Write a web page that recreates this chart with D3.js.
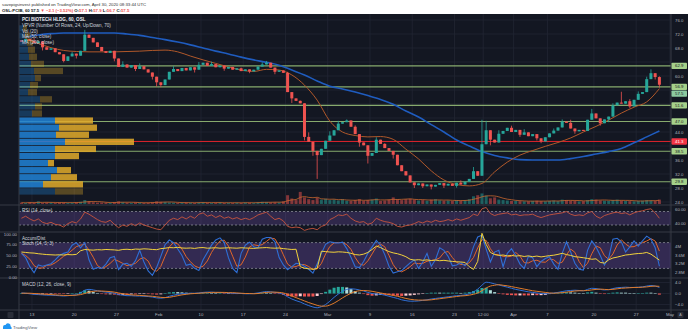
<!DOCTYPE html>
<html>
<head>
<meta charset="utf-8">
<script src="https://cdnjs.cloudflare.com/ajax/libs/d3/7.8.5/d3.min.js"></script>
<style>
html,body{margin:0;padding:0;background:#ffffff;}
svg{display:block;font-family:"Liberation Sans",Arial,sans-serif;}
</style>
</head>
<body>
<svg id="chart" width="690" height="332"></svg>
<script>
// ---------- data (60-minute chart, sampled every half trading day) ----------
const firstOpen = 70.2;
const closes = [
  69.8,70.6,70.0,69.4,69.9,68.2,67.5,67.9,66.8,66.2,
  64.3,65.6,66.4,65.8,67.2,71.8,70.9,69.6,68.3,67.1,
  66.6,67.2,65.0,62.6,63.3,62.4,63.1,62.0,62.8,61.9,
  61.0,59.8,58.2,57.4,59.0,61.2,62.0,61.4,62.3,61.6,
  62.5,61.8,63.2,63.8,62.9,63.4,62.5,63.0,62.1,62.6,
  61.8,62.2,61.4,61.9,61.3,61.8,62.7,63.3,63.8,62.4,
  61.2,61.6,60.9,55.4,53.6,52.9,52.2,42.6,41.2,38.6,
  37.4,39.2,41.5,43.0,44.5,46.4,46.8,47.3,45.5,43.4,
  41.0,40.2,37.2,38.0,41.8,40.6,39.4,38.6,37.5,34.5,
  32.8,31.6,29.6,28.8,29.3,28.5,29.0,28.4,28.9,29.4,
  28.7,29.2,28.6,29.5,29.0,29.8,30.6,32.8,31.5,40.5,
  44.5,41.8,41.0,43.5,44.3,45.2,44.0,44.6,43.2,43.9,
  42.8,43.4,42.2,41.3,42.5,43.6,44.4,45.3,47.0,46.6,
  45.0,44.2,44.6,44.3,47.5,49.3,47.9,46.5,47.6,48.4,
  51.6,52.4,52.1,52.8,51.3,53.2,54.9,55.4,59.1,60.8,
  59.7,57.5
];
// wick extremes that reach beyond the candle body (bar index -> price)
const wickHighs = {3:70.9,8:67.8,12:66.9,15:73.2,19:68.2,24:64.2,28:63.6,36:62.8,42:64.0,45:64.1,52:62.4,
  57:63.9,58:64.3,63:61.2,66:53.0,68:43.9,73:44.2,75:47.2,77:47.6,79:45.9,84:42.5,86:40.8,90:34.0,104:30.2,
  107:34.0,109:47.5,110:47.2,113:44.5,116:45.8,119:44.8,126:45.0,128:47.6,130:47.5,135:50.6,140:52.2,
  142:55.5,144:53.4,146:55.6,148:59.8,149:61.9,151:59.9};
const wickLows = {5:67.3,10:63.9,13:65.0,22:64.2,27:61.4,31:59.0,32:57.0,33:56.8,41:61.0,48:61.5,54:60.8,
  60:60.5,64:52.3,67:41.6,69:37.2,70:30.6,80:39.8,82:35.0,88:36.4,93:28.0,95:28.0,97:27.6,100:28.0,103:28.1,
  111:40.2,118:42.6,122:41.6,123:40.8,131:43.5,137:45.8,139:46.8,144:50.8,150:59.0,151:56.7};
const volumes = [
  6,5,8,6,12,5,7,6,5,8,
  7,5,6,8,10,18,12,8,6,7,
  6,5,9,12,8,6,5,7,6,5,
  6,8,12,10,9,7,6,5,6,7,
  6,5,7,8,6,5,6,7,5,6,
  5,6,5,7,6,5,8,10,9,7,
  8,7,12,40,25,18,55,30,22,18,
  28,20,24,18,20,16,22,15,14,18,
  22,15,18,20,25,14,16,20,30,22,
  18,22,24,20,16,18,15,20,22,17,
  15,16,14,18,15,17,22,35,40,48,
  38,26,30,20,18,16,14,15,13,12,
  12,14,15,13,12,14,16,13,20,18,
  15,14,12,13,18,22,20,16,15,14,
  18,20,16,14,13,12,14,15,18,16,
  14,20
];
// moving averages, one value every third bar starting at bar 1
const ma50 = [
  70.6,69.3,68.1,67.3,67.0,66.9,66.9,66.9,67.0,67.1,
  67.3,67.4,66.9,65.7,64.6,63.6,62.6,61.7,61.3,61.9,
  61.7,60.3,57.4,53.1,47.1,44.0,43.0,42.6,42.7,41.9,
  39.1,36.3,32.9,30.3,29.0,28.6,29.3,32.6,35.4,37.4,
  38.7,39.9,41.0,42.3,44.0,45.6,47.4,49.4,51.1,52.6,
  56.4
];
const ma200 = [
  71.1,71.7,72.1,72.3,72.3,72.3,72.3,72.3,72.0,71.6,
  71.0,70.4,69.7,68.9,68.0,67.1,66.3,65.4,64.6,63.9,
  63.1,61.7,60.3,58.6,57.1,56.3,55.4,54.4,53.3,51.9,
  50.0,48.3,46.1,44.0,41.7,40.0,38.4,37.3,36.6,36.1,
  36.0,36.0,36.0,36.4,37.0,37.7,38.4,39.3,40.9,42.6,
  44.3
];
const rsi = [
  50,53,49,46,49,44,42,44,41,40,
  37,42,45,43,49,59,56,52,48,45,
  44,47,41,36,40,38,42,39,43,40,
  38,36,34,33,40,47,50,48,52,49,
  53,50,56,58,53,55,51,54,50,52,
  49,51,48,50,48,51,55,57,59,53,
  48,50,46,38,36,37,36,32,34,35,
  33,38,40,48,51,55,54,56,50,46,
  44,45,41,43,50,47,45,44,42,38,
  37,39,40,42,45,43,46,44,47,45,
  46,48,46,49,47,49,51,56,54,64,
  66,57,54,56,57,58,55,56,54,55,
  55,56,53,51,53,55,56,57,58,60,
  56,54,55,54,58,60,53,50,54,56,
  58,59,57,58,55,58,60,61,63,64,
  58,50
];
const stochK = [
  55,45,24,10,28,25,28,31,40,50,
  55,58,74,80,68,80,40,18,22,20,
  30,45,48,17,30,32,25,38,62,35,
  14,4,22,48,75,86,80,65,50,27,
  30,20,15,40,57,74,86,91,80,45,
  20,10,55,74,81,70,68,88,92,92,
  82,45,28,17,24,32,30,25,18,9,
  30,55,76,82,80,79,81,66,46,24,
  22,36,55,70,85,74,52,25,9,12,
  15,24,33,40,20,35,55,25,40,68,
  62,48,26,28,33,26,40,70,93,97,
  65,35,58,62,24,55,66,50,30,20,
  48,45,24,36,43,47,30,18,55,82,
  58,32,18,16,62,84,70,50,28,45,
  88,90,82,58,70,84,72,84,95,88,
  68,25
];
const accDist = [
  3.74,3.72,3.70,3.69,3.66,3.64,3.62,3.61,3.60,3.61,
  3.60,3.62,3.61,3.63,3.80,3.86,3.84,3.83,3.85,3.84,
  3.86,3.85,3.84,3.82,3.86,3.87,3.85,3.88,3.87,3.89,
  3.88,3.86,3.85,3.90,3.92,3.95,3.94,3.96,3.93,3.92,
  3.93,3.91,3.94,3.95,3.92,3.93,3.94,3.92,3.93,3.94,
  3.93,3.92,3.94,3.93,3.92,3.91,3.93,3.94,3.95,3.93,
  3.92,3.93,3.90,3.88,3.86,3.87,3.05,2.98,2.95,2.93,
  2.97,3.78,3.76,3.74,3.73,3.75,3.74,3.72,3.68,3.62,
  3.60,3.64,3.72,3.86,4.02,3.95,3.85,3.76,3.70,3.66,
  3.60,3.52,3.40,3.36,3.38,3.35,3.37,3.34,3.36,3.33,
  3.35,3.32,3.30,3.28,3.27,3.25,3.05,2.92,3.30,4.62,
  4.10,3.72,3.62,3.58,3.60,3.56,3.58,3.55,3.57,3.53,
  3.56,3.52,3.55,3.51,3.54,3.57,3.59,3.63,3.68,3.62,
  3.58,3.52,3.50,3.47,3.44,3.40,3.42,3.25,3.22,3.37,
  3.46,3.50,3.55,3.60,3.62,3.65,3.67,3.68,3.72,3.64,
  3.50,3.36
];
const macdLine = [
  0.2,0.1,-0.1,-0.3,-0.4,-0.5,-0.6,-0.6,-0.7,-0.8,
  -0.9,-0.8,-0.6,-0.5,0.2,1.2,1.5,1.3,1.0,0.7,
  0.5,0.4,0.1,-0.4,-0.6,-0.8,-0.8,-0.9,-0.9,-1.0,
  -1.1,-1.3,-1.6,-1.7,-1.5,-1.0,-0.6,-0.3,-0.1,0.0,
  0.1,0.1,0.2,0.4,0.5,0.5,0.4,0.4,0.3,0.2,
  0.1,0.0,0.0,-0.1,-0.1,0.0,0.2,0.5,0.7,0.6,
  0.4,0.2,-0.3,-1.2,-2.0,-2.6,-3.1,-3.8,-4.4,-4.9,
  -5.2,-4.8,-4.0,-2.8,-1.4,-0.2,0.8,1.5,1.7,1.6,
  1.3,0.9,0.4,0.0,-0.2,-0.3,-0.6,-1.0,-1.4,-1.8,
  -2.3,-2.6,-2.8,-2.8,-2.7,-2.5,-2.3,-2.0,-1.8,-1.6,
  -1.4,-1.2,-1.0,-0.8,-0.7,-0.5,-0.1,0.6,1.6,3.0,
  4.1,3.9,3.5,3.1,2.7,2.3,1.9,1.5,1.2,0.9,
  0.6,0.4,0.2,0.0,-0.1,0.0,0.2,0.4,0.7,1.0,
  1.1,1.2,1.1,1.0,1.5,1.9,1.8,1.5,1.3,1.4,
  1.8,2.1,2.2,2.3,2.2,2.2,2.3,2.4,2.7,2.9,
  2.7,2.2
];
const macdSignal = [
  0.1,0.1,0.1,0.0,-0.1,-0.2,-0.3,-0.4,-0.5,-0.6,
  -0.7,-0.7,-0.7,-0.6,-0.4,0.0,0.5,0.8,0.9,0.9,
  0.8,0.7,0.5,0.2,-0.1,-0.3,-0.5,-0.6,-0.7,-0.8,
  -0.9,-1.0,-1.2,-1.4,-1.5,-1.4,-1.1,-0.8,-0.5,-0.3,
  -0.1,0.0,0.1,0.2,0.3,0.4,0.4,0.4,0.4,0.3,
  0.3,0.2,0.1,0.0,0.0,-0.1,0.0,0.2,0.4,0.5,
  0.5,0.4,0.2,-0.3,-0.9,-1.5,-2.1,-2.7,-3.3,-3.8,
  -4.3,-4.6,-4.6,-4.2,-3.5,-2.6,-1.6,-0.7,0.1,0.7,
  1.0,1.1,1.0,0.8,0.5,0.2,-0.1,-0.4,-0.7,-1.0,
  -1.4,-1.8,-2.1,-2.3,-2.4,-2.4,-2.4,-2.3,-2.1,-1.9,
  -1.7,-1.5,-1.3,-1.1,-0.9,-0.8,-0.6,-0.3,0.2,1.0,
  2.0,2.7,3.0,3.2,3.0,2.8,2.5,2.2,1.9,1.6,
  1.3,1.0,0.8,0.6,0.4,0.2,0.1,0.2,0.3,0.5,
  0.7,0.9,1.0,1.0,1.1,1.3,1.5,1.6,1.5,1.4,
  1.5,1.7,1.9,2.0,2.1,2.2,2.2,2.3,2.4,2.6,
  2.7,2.6
];
// volume profile, 24 rows from the top price down
const profileTop = 74.6, profileBottom = 26.0;
const valueAreaHigh = 48.3, valueAreaLow = 28.0;
const profileUp   = [4,6,8,9,10,12,15,16,11,9,21,16,13,36,40,37,46,36,36,29,38,32,24,36];
const profileDown = [4,5,6,7,8,13,29,6,8,9,12,7,10,38,38,33,69,41,24,6,14,26,40,28];
// drawn support / resistance levels
const levels = [62.9, 56.9, 51.6, 47.0, 38.5, 29.8];
const pocLevel = 41.3;
const lastPrice = 57.5;
// time axis (trading days counted from Jan 13)
const tickDays   = [0,5,10,15,20,25,30,35,40,45,50,53.4,57,61,66.5,71.5,75.5];
const tickLabels = ["13","20","27","Feb","10","17","24","Mar","9","16","23","12:00","Apr","7","20","27","May"];
const priceTicks = [24,28,32,36,40,44,48,52,56,60,64,68,72,76];

// ---------- layout ----------
const svg = d3.select("#chart");
const plotL = 19, plotR = 671;
const pane = {main:[14,205], rsi:[205,232], stoch:[232,278], macd:[278,310]};
const FS = 4.3;
const BG = "#131722", GRID = "#222633", SEP = "#363a45", AXIS_TXT = "#b2b5be", LEG = "#d1d4dc";
const UP = "#26a69a", DOWN = "#ef5350";

const x = d3.scaleLinear().domain([-1.5, 75.6]).range([19.3, 670.8]);
const barTime = i => -1.25 + 0.5 * i;
const maBar = k => 1 + 3 * k;
const y = d3.scaleLinear().domain([24, 76]).range([202, 20]);
const yVol = d3.scaleLinear().domain([0, 100]).range([204, 182]);
const yRsi = d3.scaleLinear().domain([40, 60]).range([225, 211.5]);
const yStoch = d3.scaleLinear().domain([0, 100]).range([277, 234]);
const yAD = d3.scaleLinear().domain([2.8, 4.0]).range([272, 246.5]);
const yMacd = d3.scaleLinear().domain([-4, 4]).range([304.5, 282.5]);
const bw = 3;

const bars = closes.map((c, i) => {
  const o = i ? closes[i - 1] : firstOpen;
  return {i, o, c,
    h: Math.max(o, c, wickHighs[i] ?? -Infinity),
    l: Math.min(o, c, wickLows[i] ?? Infinity),
    v: volumes[i]};
});

// header
const head = svg.append("g").attr("font-size", FS).attr("fill", "#333");
head.append("text").attr("x", 2).attr("y", 5.5).text("savepigsinvest published on TradingView.com, April 30, 2020 08:33:44 UTC");
const l2 = head.append("text").attr("x", 2).attr("y", 11.5).attr("font-weight", "bold").attr("fill", "#131722");
[["OSL:PCIB, 60 57.5 ", "#131722"], ["\u25BC \u22122.1 (\u22123.52%) ", "#ef5350"],
 ["O:", "#131722"], ["57.1", "#ef5350"], [" H:", "#131722"], ["57.9", "#ef5350"],
 [" L:", "#131722"], ["56.7", "#ef5350"], [" C:", "#131722"], ["57.5", "#ef5350"]]
 .forEach(([t, c]) => l2.append("tspan").attr("fill", c).text(t));

// dark chart body
svg.append("rect").attr("x", 0).attr("y", 14).attr("width", 688).attr("height", 305).attr("fill", BG);

const defs = svg.append("defs");
Object.entries(pane).forEach(([k, [a, b]]) => {
  defs.append("clipPath").attr("id", "clip-" + k).append("rect")
    .attr("x", plotL).attr("y", a).attr("width", plotR - plotL).attr("height", b - a);
});

// grid
const grid = svg.append("g").attr("stroke", GRID).attr("stroke-width", 0.8);
tickDays.forEach(t => grid.append("line").attr("x1", x(t)).attr("x2", x(t)).attr("y1", 14).attr("y2", 310));
priceTicks.forEach(p => grid.append("line").attr("x1", plotL).attr("x2", plotR).attr("y1", y(p)).attr("y2", y(p)));
[-4, 0, 4].forEach(v => grid.append("line").attr("x1", plotL).attr("x2", plotR).attr("y1", yMacd(v)).attr("y2", yMacd(v)));

// ---------- main pane ----------
const main = svg.append("g").attr("clip-path", "url(#clip-main)");

// volume bars and their average
main.append("g").selectAll("rect").data(bars).join("rect")
  .attr("x", d => x(barTime(d.i)) - bw / 2).attr("width", bw)
  .attr("y", d => yVol(d.v)).attr("height", d => yVol(0) - yVol(d.v))
  .attr("fill", d => d.c >= d.o ? UP : DOWN).attr("opacity", 0.5);
const volAvg = volumes.map((v, i) => d3.mean(volumes.slice(Math.max(0, i - 4), i + 1)));
main.append("path").attr("fill", "none").attr("stroke", "#c8672f").attr("stroke-width", 0.8)
  .attr("d", d3.line().x((d, i) => x(barTime(i))).y(d => yVol(d)).curve(d3.curveMonotoneX)(volAvg));

// level lines
levels.forEach(p => main.append("line").attr("x1", plotL).attr("x2", plotR).attr("y1", y(p)).attr("y2", y(p))
  .attr("stroke", "#9cc47a").attr("stroke-opacity", 0.85).attr("stroke-width", 1.1));
main.append("line").attr("x1", plotL).attr("x2", plotR).attr("y1", y(pocLevel)).attr("y2", y(pocLevel))
  .attr("stroke", "#e0242c").attr("stroke-width", 1);

// moving averages
const maLine = d3.line().x((d, k) => x(barTime(maBar(k)))).y(d => y(d)).curve(d3.curveMonotoneX);
main.append("path").attr("fill", "none").attr("stroke", "#1f5cbf").attr("stroke-width", 1.6).attr("d", maLine(ma200));
main.append("path").attr("fill", "none").attr("stroke", "#b0582a").attr("stroke-width", 1).attr("d", maLine(ma50));

// candles
const cg = main.append("g");
cg.selectAll("line").data(bars).join("line")
  .attr("x1", d => x(barTime(d.i))).attr("x2", d => x(barTime(d.i)))
  .attr("y1", d => y(d.h)).attr("y2", d => y(d.l))
  .attr("stroke", d => d.c >= d.o ? UP : DOWN).attr("stroke-width", 0.8);
cg.selectAll("rect").data(bars).join("rect")
  .attr("x", d => x(barTime(d.i)) - bw / 2).attr("width", bw)
  .attr("y", d => y(Math.max(d.o, d.c)))
  .attr("height", d => Math.max(0.8, Math.abs(y(d.o) - y(d.c))))
  .attr("fill", d => d.c >= d.o ? UP : DOWN);

// volume profile
const rowH = (profileTop - profileBottom) / profileUp.length;
const px = d3.scaleLinear().domain([0, 115]).range([plotL, plotL + 115]);
const prof = main.append("g");
profileUp.forEach((u, k) => {
  const top = profileTop - k * rowH, bot = top - rowH;
  const inVA = top <= valueAreaHigh + 0.01 && bot >= valueAreaLow - 0.01;
  const op = inVA ? 0.85 : 0.33;
  const yy = y(top) + 0.4, hh = y(bot) - y(top) - 0.8;
  prof.append("rect").attr("x", px(0)).attr("y", yy).attr("width", px(u) - px(0)).attr("height", hh)
    .attr("fill", "#2182d6").attr("opacity", op);
  prof.append("rect").attr("x", px(u)).attr("y", yy).attr("width", px(u + profileDown[k]) - px(u)).attr("height", hh)
    .attr("fill", "#e3ac2a").attr("opacity", op);
});

// ---------- RSI pane ----------
const rg = svg.append("g").attr("clip-path", "url(#clip-rsi)");
rg.append("rect").attr("x", plotL).attr("width", plotR - plotL).attr("y", yRsi(60)).attr("height", yRsi(40) - yRsi(60))
  .attr("fill", "#7e57c2").attr("opacity", 0.26);
[60, 40].forEach(v => rg.append("line").attr("x1", plotL).attr("x2", plotR).attr("y1", yRsi(v)).attr("y2", yRsi(v))
  .attr("stroke", "#9598a1").attr("stroke-width", 0.7).attr("stroke-dasharray", "2,2"));
rg.append("path").attr("fill", "none").attr("stroke", "#c8553d").attr("stroke-width", 0.9)
  .attr("d", d3.line().x((d, i) => x(barTime(i))).y(d => yRsi(d))(rsi));

// ---------- Stoch / Accum-Dist pane ----------
const sg = svg.append("g").attr("clip-path", "url(#clip-stoch)");
sg.append("rect").attr("x", plotL).attr("width", plotR - plotL).attr("y", yStoch(80)).attr("height", yStoch(20) - yStoch(80))
  .attr("fill", "#7e57c2").attr("opacity", 0.3);
[80, 20].forEach(v => sg.append("line").attr("x1", plotL).attr("x2", plotR).attr("y1", yStoch(v)).attr("y2", yStoch(v))
  .attr("stroke", "#9598a1").attr("stroke-width", 0.7).attr("stroke-dasharray", "2,2"));
const stochD = stochK.map((v, i) => d3.mean(stochK.slice(Math.max(0, i - 2), i + 1)));
const sLine = d3.line().x((d, i) => x(barTime(i))).y(d => yStoch(d));
sg.append("path").attr("fill", "none").attr("stroke", "#e0662a").attr("stroke-width", 1).attr("d", sLine(stochD));
sg.append("path").attr("fill", "none").attr("stroke", "#2f6fd6").attr("stroke-width", 1.1).attr("d", sLine(stochK));
sg.append("path").attr("fill", "none").attr("stroke", "#f2d23c").attr("stroke-width", 1)
  .attr("d", d3.line().x((d, i) => x(barTime(i))).y(d => yAD(d))(accDist));

// ---------- MACD pane ----------
const mg = svg.append("g").attr("clip-path", "url(#clip-macd)");
const hist = macdLine.map((m, i) => m - macdSignal[i]);
mg.selectAll("rect").data(hist).join("rect")
  .attr("x", (d, i) => x(barTime(i)) - bw / 2).attr("width", bw)
  .attr("y", d => Math.min(yMacd(d), yMacd(0))).attr("height", d => Math.max(0.5, Math.abs(yMacd(d) - yMacd(0))))
  .attr("fill", (d, i) => {
    const prev = i ? hist[i - 1] : d;
    if (d >= 0) return d >= prev ? "#26a69a" : "#b2dfdb";
    return d <= prev ? "#ef5350" : "#ffcdd2";
  });
const mLine = d3.line().x((d, i) => x(barTime(i))).y(d => yMacd(d)).curve(d3.curveMonotoneX);
mg.append("path").attr("fill", "none").attr("stroke", "#2f6fd6").attr("stroke-width", 1).attr("d", mLine(macdLine));
mg.append("path").attr("fill", "none").attr("stroke", "#e07b2a").attr("stroke-width", 1).attr("d", mLine(macdSignal));

// ---------- separators ----------
const sep = svg.append("g").attr("stroke", SEP).attr("stroke-width", 1);
[205, 232, 278, 310].forEach(v => sep.append("line").attr("x1", 0).attr("x2", 688).attr("y1", v).attr("y2", v));
[plotL, plotR].forEach(v => sep.append("line").attr("x1", v).attr("x2", v).attr("y1", 14).attr("y2", 319));

// ---------- price tags on the right scale ----------
const tags = levels.map(p => ({v: p, y: y(p), fill: "#a5d08a", txt: "#131722"}));
tags.push({v: lastPrice, y: y(56.9) + 6.8, fill: "#8cc9a0", txt: "#131722"});
tags.push({v: pocLevel, y: y(pocLevel), fill: "#f23645", txt: "#ffffff"});

// ---------- axes ----------
const ax = svg.append("g").attr("font-size", FS).attr("fill", AXIS_TXT).attr("dominant-baseline", "central");
priceTicks.filter(p => tags.every(t => Math.abs(t.y - y(p)) > 5.2))
  .forEach(p => ax.append("text").attr("x", 675).attr("y", y(p)).text(p.toFixed(1)));
[[60, "60.00"], [40, "40.00"]].forEach(([v, t]) => ax.append("text").attr("x", 675).attr("y", yRsi(v) - 2).text(t));
[[4.0, "4M"], [3.6, "3.6M"], [3.2, "3.2M"], [2.8, "2.8M"]].forEach(([v, t]) => ax.append("text").attr("x", 675).attr("y", yAD(v)).text(t));
[[4, "4.0"], [0, "0.0"], [-4, "\u22124.0"]].forEach(([v, t]) => ax.append("text").attr("x", 675).attr("y", yMacd(v)).text(t));
[100, 75, 50, 25, 0].forEach(v => ax.append("text").attr("x", 17).attr("y", yStoch(v)).attr("text-anchor", "end").text(v.toFixed(2)));
tickDays.forEach((t, k) => ax.append("text").attr("x", x(t)).attr("y", 314.8).attr("text-anchor", "middle").text(tickLabels[k]));

tags.forEach(t => {
  const g = svg.append("g");
  g.append("rect").attr("x", 671.5).attr("y", t.y - 3.2).attr("width", 15.5).attr("height", 6.4).attr("rx", 0.8).attr("fill", t.fill);
  g.append("text").attr("x", 679.2).attr("y", t.y).attr("text-anchor", "middle").attr("dominant-baseline", "central")
    .attr("font-size", FS).attr("fill", t.txt).text(t.v.toFixed(1));
});

// ---------- legends ----------
const LFS = 4.6;
const lg = svg.append("g").attr("font-size", LFS).attr("fill", LEG).attr("dominant-baseline", "central");
[["PCI BIOTECH HLDG, 60, OSL", 19.5], ["VPVR (Number Of Rows, 24, Up/Down, 70)", 25.5],
 ["Vol (20)", 31], ["MA (50, close)", 36.5], ["MA (200, close)", 42]]
 .forEach(([t, yy], k) => lg.append("text").attr("x", 22).attr("y", yy)
   .attr("fill", k ? LEG : "#e8eaf0").attr("font-weight", k ? null : "bold").text(t));
lg.append("text").attr("x", 22).attr("y", 210.5).text("RSI (14, close)");
lg.append("text").attr("x", 22).attr("y", 238).text("Accum/Dist");
lg.append("text").attr("x", 22).attr("y", 243.5).text("Stoch (14, 3, 3)");
lg.append("text").attr("x", 22).attr("y", 284).text("MACD (12, 26, close, 9)");

// corner buttons on the time scale
svg.append("rect").attr("x", 7.5).attr("y", 312).attr("width", 6).attr("height", 6).attr("rx", 1).attr("fill", "#2a2e39");
svg.append("rect").attr("x", 677.5).attr("y", 312).attr("width", 6).attr("height", 6).attr("rx", 1).attr("fill", "#2a2e39");
svg.append("text").attr("x", 680.5).attr("y", 315.2).attr("font-size", 3.6).attr("fill", AXIS_TXT)
  .attr("text-anchor", "middle").attr("dominant-baseline", "central").text("A");

// footer brand
const ft = svg.append("g");
ft.append("path").attr("fill", "#2196f3")
  .attr("d", "M3,329 L3,327 Q3,324.5 5.5,325 Q6.5,322.6 9,323.6 Q10.8,324.2 10.6,326.2 Q12,326.6 11.6,329 Z");
ft.append("text").attr("x", 13).attr("y", 327.2).attr("font-size", 4.4).attr("fill", "#50535e")
  .attr("dominant-baseline", "central").text("TradingView");
</script>
</body>
</html>
